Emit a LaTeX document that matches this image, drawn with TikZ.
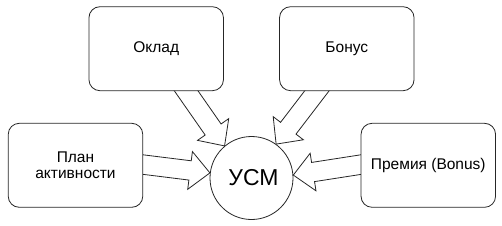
\documentclass[tikz,border=0pt]{standalone}
\usepackage{fontspec}
\setmainfont{Liberation Sans}
\usetikzlibrary{calc,backgrounds}
\tikzset{
  line/.style={draw=black!85, line width=0.8pt},
  box/.style={line, fill=white, rounded corners=11pt, minimum width=134.5pt, minimum height=84pt,
    inner sep=0pt, align=center, font=\fontsize{15.5}{16.5}\selectfont},
  hub/.style={line, fill=white, circle, minimum size=83pt, inner sep=0pt, font=\fontsize{23}{25}\selectfont},
  arrowline/.style={line, fill=white, line join=miter},
}
\newcommand\blockarrow[3]{%
  \coordinate (#1b) at ($(#3)!20pt!(#2)$);
  \draw[arrowline] ($(#2)!9.7pt!90:(#3)$) -- ($(#1b)!9.7pt!90:(#3)$) -- ($(#1b)!19pt!90:(#3)$)
    -- (#3) -- ($(#1b)!19pt!-90:(#3)$) -- ($(#1b)!9.7pt!-90:(#3)$) -- ($(#2)!9.7pt!-90:(#3)$);
}
\begin{document}
\begin{tikzpicture}[x=1pt,y=-1pt]
\useasboundingbox (0,0) rectangle (502,225);
\node[box] (oklad) at (156.2,48.7) {Оклад};
\node[box] (bonus) at (346.8,48.7) {Бонус};
\node[box] (plan) at (75.5,165.3) {План\\активности};
\node[box] (premia) at (428.3,165.3) {Премия (Bonus)};
\node[hub] (c) at (251.5,178) {\raisebox{2pt}{\hspace{4pt}УСМ}};
\begin{scope}[on background layer]
\coordinate (s1) at ($(plan.east)+(-12.75,-2.3)$);
\coordinate (s2) at ($(oklad.south)+(21.1,-13)$);
\coordinate (s3) at ($(bonus.south)+(-21,-11.9)$);
\coordinate (s4) at ($(premia.west)+(12.45,-2.6)$);
\blockarrow{a1}{s1}{c.173.7}
\blockarrow{a2}{s2}{c.130.3}
\blockarrow{a3}{s3}{c.54.2}
\blockarrow{a4}{s4}{c.4}
\end{scope}
\end{tikzpicture}
\end{document}
